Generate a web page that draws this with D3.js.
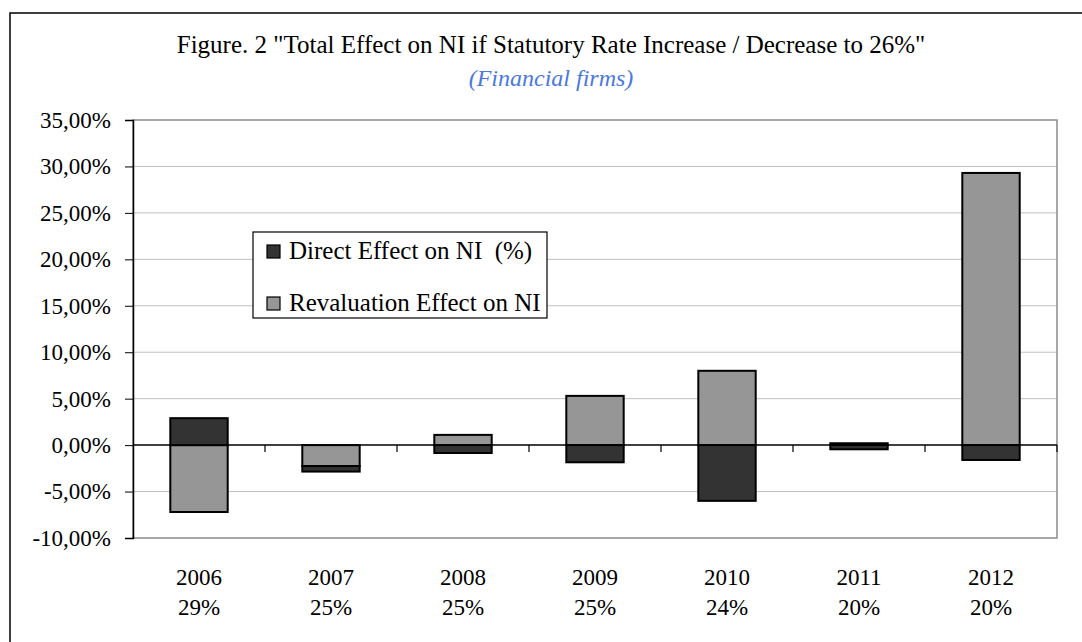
<!DOCTYPE html>
<html>
<head>
<meta charset="utf-8">
<script src="https://cdn.jsdelivr.net/npm/d3@7"></script>
<style>
  body { margin: 0; background: #fff; }
  svg { display: block; font-family: "Liberation Serif", "Times New Roman", serif; }
</style>
</head>
<body>
<div class="view"></div>
<script>
// chart values (percent)
const years = ["2006", "2007", "2008", "2009", "2010", "2011", "2012"];
const rates = ["29%", "25%", "25%", "25%", "24%", "20%", "20%"];
const directEffect = [2.9, -0.6, -0.85, -1.85, -6.0, -0.45, -1.6];
const revalEffect = [-7.2, -2.25, 1.1, 5.3, 8.0, 0.2, 29.3];
const yTicks = [-10, -5, 0, 5, 10, 15, 20, 25, 30, 35];

const width = 1082, height = 642;
const margin = {top: 120, right: 25, bottom: 104, left: 133};

let svg = d3.select(".view").append("svg")
    .attr("width", width)
    .attr("height", height);

// outer frame (runs off the right/bottom of the picture)
svg.append("rect")
    .attr("x", 10).attr("y", 13)
    .attr("width", 1200).attr("height", 800)
    .attr("fill", "none").attr("stroke", "#000").attr("stroke-width", 1.5);

// titles
svg.append("text")
    .attr("x", 551).attr("y", 53)
    .attr("text-anchor", "middle")
    .attr("font-size", 25)
    .text("Figure. 2 \"Total Effect on NI if Statutory Rate Increase / Decrease to 26%\"");

svg.append("text")
    .attr("x", 551).attr("y", 86)
    .attr("text-anchor", "middle")
    .attr("font-size", 24)
    .attr("font-style", "italic")
    .attr("fill", "#4a78e0")
    .text("(Financial firms)");

let x = d3.scaleBand()
    .domain(years)
    .range([margin.left, width - margin.right])
    .paddingInner(1.3 / 2.3)
    .paddingOuter(1.3 / 2.3 / 2);

let y = d3.scaleLinear()
    .domain([-10, 35])
    .range([height - margin.bottom, margin.top]);

// gridlines
svg.append("g").selectAll("line")
    .data(yTicks.filter(d => d !== 0 && d !== -10 && d !== 35))
    .join("line")
    .attr("x1", margin.left).attr("x2", width - margin.right)
    .attr("y1", d => y(d)).attr("y2", d => y(d))
    .attr("stroke", "#c0c0c0").attr("stroke-width", 1);

// plot area border
svg.append("rect")
    .attr("x", margin.left).attr("y", margin.top)
    .attr("width", width - margin.right - margin.left)
    .attr("height", height - margin.bottom - margin.top)
    .attr("fill", "none").attr("stroke", "#8c8c8c").attr("stroke-width", 1.5);

// stacked bars, revaluation first then direct, diverging like Excel
let table = years.map((yr, i) => ({year: yr, reval: revalEffect[i], direct: directEffect[i]}));
let stack = d3.stack()
    .keys(["reval", "direct"])
    .offset(d3.stackOffsetDiverging);
let series = stack(table);
let colors = {reval: "#969696", direct: "#333333"};

// y axis
let locale = d3.formatLocale({decimal: ",", thousands: ".", grouping: [3], currency: ["", ""], minus: "-"});
let fmt = locale.format(".2f");
let yAxis = d3.axisLeft(y)
    .tickValues(yTicks)
    .tickSize(8)
    .tickPadding(14)
    .tickFormat(d => fmt(d) + "%");
let yg = svg.append("g")
    .attr("transform", `translate(${margin.left},0)`)
    .call(yAxis);
yg.select(".domain").attr("stroke", "#000").attr("stroke-width", 1.5);
yg.selectAll(".tick line").attr("stroke", "#000");
yg.selectAll(".tick text")
    .attr("font-size", 23)
    .attr("font-family", "Liberation Serif")
    .attr("fill", "#000");

// zero line with category ticks
svg.append("line")
    .attr("x1", margin.left).attr("x2", width - margin.right)
    .attr("y1", y(0)).attr("y2", y(0))
    .attr("stroke", "#000").attr("stroke-width", 1.5);

let step = x.step();
svg.append("g").selectAll("line")
    .data(years.slice(1).concat(["end"]))
    .join("line")
    .attr("x1", (d, i) => margin.left + step * (i + 1))
    .attr("x2", (d, i) => margin.left + step * (i + 1))
    .attr("y1", y(0)).attr("y2", y(0) + 7)
    .attr("stroke", "#000").attr("stroke-width", 1.2);

svg.append("g").selectAll("g")
    .data(series)
    .join("g")
    .attr("fill", d => colors[d.key])
    .selectAll("rect")
    .data(d => d)
    .join("rect")
    .attr("x", d => x(d.data.year))
    .attr("width", x.bandwidth())
    .attr("y", d => y(d[1]))
    .attr("height", d => y(d[0]) - y(d[1]))
    .attr("stroke", "#000")
    .attr("stroke-width", 2);

// category labels (year, rate)
let xl = svg.append("g").selectAll("text")
    .data(years)
    .join("text")
    .attr("x", d => x(d) + x.bandwidth() / 2)
    .attr("text-anchor", "middle")
    .attr("font-size", 23);
xl.append("tspan").attr("x", d => x(d) + x.bandwidth() / 2).attr("y", 585).text(d => d);
xl.append("tspan").attr("x", d => x(d) + x.bandwidth() / 2).attr("y", 615).text((d, i) => rates[i]);

// legend
let legend = svg.append("g").attr("transform", "translate(253,232)");
legend.append("rect")
    .attr("width", 294).attr("height", 86)
    .attr("fill", "#fff").attr("stroke", "#000").attr("stroke-width", 1.2);
let legendItems = [
    {label: "Direct Effect on NI  (%)", key: "direct"},
    {label: "Revaluation Effect on NI", key: "reval"}
];
let li = legend.selectAll("g")
    .data(legendItems)
    .join("g")
    .attr("transform", (d, i) => `translate(0,${13 + i * 52})`);
li.append("rect")
    .attr("x", 14).attr("y", 0)
    .attr("width", 13).attr("height", 13)
    .attr("fill", d => colors[d.key])
    .attr("stroke", "#000").attr("stroke-width", 1.2);
li.append("text")
    .attr("x", 36).attr("y", 14)
    .attr("font-size", 25)
    .style("white-space", "pre")
    .attr("xml:space", "preserve")
    .text(d => d.label);
</script>
</body>
</html>
